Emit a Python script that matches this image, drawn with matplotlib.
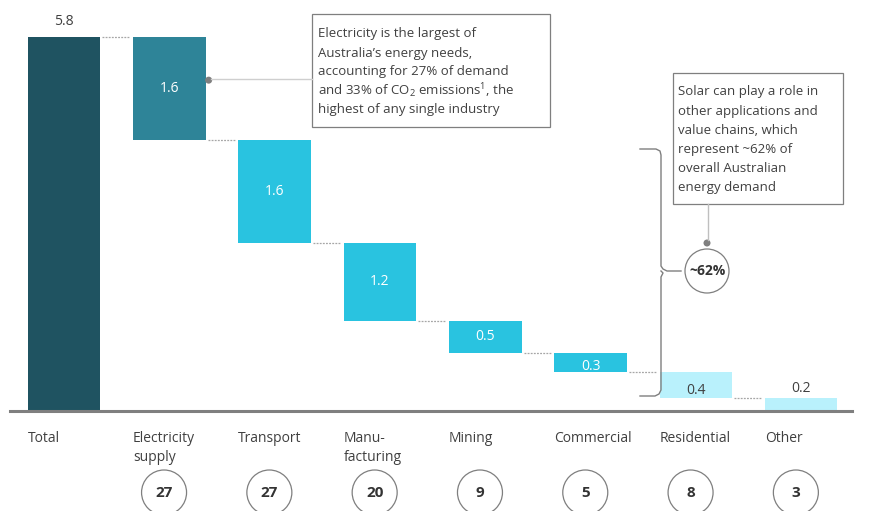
import numpy as np
import matplotlib.pyplot as plt
from matplotlib.patches import Circle, Rectangle

plt.rcParams['font.family'] = ['Open Sans', 'DejaVu Sans']
plt.rcParams['mathtext.fontset'] = 'custom'
plt.rcParams['mathtext.rm'] = 'Open Sans'

categories = ['Total', 'Electricity\nsupply', 'Transport', 'Manu-\nfacturing',
              'Mining', 'Commercial', 'Residential', 'Other']
values = [5.8, 1.6, 1.6, 1.2, 0.5, 0.3, 0.4, 0.2]
shares = [None, 27, 27, 20, 9, 5, 8, 3]
colors = ['#1F5361', '#2E8498', '#29C3E0', '#29C3E0', '#29C3E0', '#29C3E0',
          '#B9F1FC', '#B9F1FC']

note_electricity = ['Electricity is the largest of', 'Australia\u2019s energy needs,',
                    'accounting for 27% of demand',
                    'and 33% of CO$_2$ emissions$^1$, the',
                    'highest of any single industry']
note_solar = ['Solar can play a role in', 'other applications and', 'value chains, which',
              'represent ~62% of', 'overall Australian', 'energy demand']
solar_share = '~62%'

txt = '#404040'
gray = '#7F7F7F'

# waterfall bottoms
bottoms = [0.0]
level = values[0]
for v in values[1:]:
    level -= v
    bottoms.append(max(level, 0.0))
tops = [b + v for b, v in zip(bottoms, values)]

fig = plt.figure(figsize=(8.73, 5.11), dpi=100)
ax = fig.add_axes([10 / 873, 100 / 511, 842 / 873, 400 / 511])
x = np.arange(len(values))
w = 0.69
ax.bar(x, values, bottom=bottoms, width=w, color=colors, zorder=2)
ax.set_xlim(-0.513, 7.483)
ax.set_ylim(0, 6.2)
for s in ['top', 'right', 'left']:
    ax.spines[s].set_visible(False)
ax.spines['bottom'].set_color(gray)
ax.spines['bottom'].set_linewidth(2.2)
ax.set_xticks([])
ax.set_yticks([])

# dashed connectors
for i in range(1, len(values)):
    ax.plot([i - 1 + w / 2 + 0.02, i - w / 2 - 0.03], [tops[i], tops[i]],
            color='#A6A6A6', lw=0.9, ls=(0, (1.5, 1)), zorder=1)

# value labels
for i, v in enumerate(values):
    lab = f'{v:.1f}'
    if i == 0:
        ax.text(i, tops[i] + 0.12, lab, ha='center', va='bottom', color=txt, fontsize=10)
    elif i == len(values) - 1:
        ax.text(i, tops[i] + 0.03, lab, ha='center', va='bottom', color=txt, fontsize=10)
    elif colors[i] == '#B9F1FC':
        ax.text(i, bottoms[i] + values[i] / 2 - 0.08, lab, ha='center', va='center',
                color=txt, fontsize=10)
    else:
        ax.text(i, bottoms[i] + values[i] / 2 - (0.06 if v < 0.4 else 0), lab,
                ha='center', va='center', color='white', fontsize=10, zorder=3)

# category labels
for i, c in enumerate(categories):
    ax.text(i - w / 2, -0.05, c, transform=ax.get_xaxis_transform(), ha='left',
            va='top', color=txt, fontsize=10, linespacing=1.35)

# overlay in pixel units for notes and circles
ov = fig.add_axes([0, 0, 1, 1])
ov.set_xlim(0, 873)
ov.set_ylim(511, 0)
ov.axis('off')
ov.patch.set_alpha(0)


def to_px(xd, yd):
    dx, dy = ax.transData.transform((xd, yd))
    return dx, 511 - dy


# share circles
for i, s in enumerate(shares):
    if s is None:
        continue
    cx, _ = to_px(i - 0.05, 0)
    ov.add_patch(Circle((cx, 492.5), 22.5, fill=False, ec=gray, lw=0.9))
    ov.text(cx, 493, str(s), ha='center', va='center', fontsize=11,
            fontweight='bold', color='#333333')

# electricity note
ex, ey = to_px(1 + w / 2, bottoms[1] + values[1] * 0.58)
ov.add_patch(Circle((ex + 3, ey), 3.5, color=gray, lw=0))
ov.plot([ex + 5, 312], [ey - 1, ey - 1], color='#CFCFCF', lw=1)
ov.add_patch(Rectangle((312, 14), 238, 113, fill=True, fc='white', ec=gray, lw=0.9))
for k, line in enumerate(note_electricity):
    ov.text(318, 34 + 19 * k, line, ha='left', va='center', fontsize=9.5, color=txt)

# solar note
ov.add_patch(Rectangle((673, 73), 170, 131, fill=True, fc='white', ec=gray, lw=0.9))
for k, line in enumerate(note_solar):
    ov.text(678, 92 + 19.2 * k, line, ha='left', va='center', fontsize=9.5, color=txt)
ov.plot([708, 708], [204, 240], color='#BFBFBF', lw=1)
ov.add_patch(Circle((707, 243), 3.5, color=gray, lw=0))
ov.add_patch(Circle((707, 271), 22, fill=False, ec=gray, lw=0.9))
ov.text(707, 271, solar_share, ha='center', va='center', fontsize=10,
        fontweight='bold', color='#333333')

# brace next to the remaining sectors
bx = [640, 656, 660, 661, 661, 663, 667, 681]
by = [149, 149, 151, 155, 266, 269, 271, 271]
ov.plot(bx, by, color=gray, lw=1)
bx2 = [661, 663, 661, 661, 659, 655, 640]
by2 = [271, 273, 277, 390, 394, 396, 396]
ov.plot(bx2, by2, color=gray, lw=1)

fig.savefig('out.png', dpi=100)
